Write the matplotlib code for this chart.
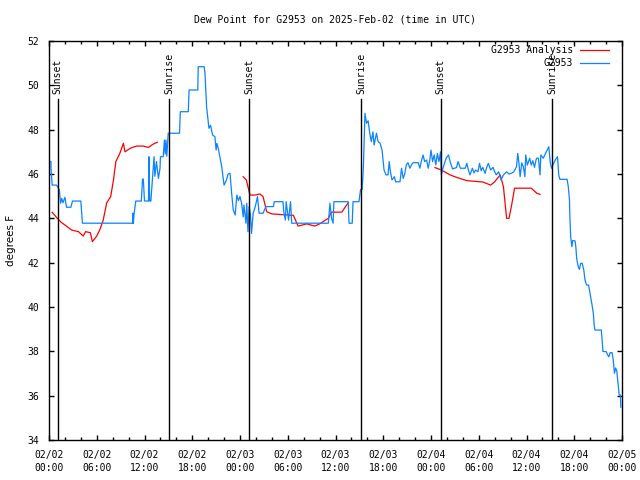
import numpy as np
import matplotlib
matplotlib.use("Agg")
import matplotlib.pyplot as plt
from matplotlib.ticker import MultipleLocator

# Datos (horas desde 2025-02-02 00:00 UTC)
analisis_h = [0.4, 1.05, 1.6, 2.0, 2.85, 3.7, 4.3, 4.6, 5.2, 5.45, 6.0, 6.4, 6.8, 7.25, 7.75,
              8.1, 8.4, 8.9, 9.35, 9.55, 10.2, 11.0, 11.85, 12.5, 13.1, 13.6, np.nan,
              24.4, 24.8, 25.25, 25.9, 26.5, 26.9, 27.35, 28.0, 30.3, 30.7, 31.3, 32.4, 33.4,
              34.0, 35.1, 35.5, 36.8, 37.2, 37.6, np.nan,
              48.5, 49.3, 50.4, 51.2, 52.5, 54.5, 55.5, 56.0, 56.7, 57.1, 57.5, 57.8, 58.1,
              58.5, 60.6, 61.3, 61.7]
analisis_v = [44.27, 44.0, 43.8, 43.7, 43.47, 43.4, 43.2, 43.4, 43.35, 42.95, 43.2, 43.5, 43.9,
              44.7, 44.98, 45.73, 46.56, 46.93, 47.39, 47.0, 47.16, 47.26, 47.26, 47.2, 47.35,
              47.43, np.nan,
              45.88, 45.73, 45.05, 45.05, 45.1, 44.98, 44.3, 44.2, 44.14, 44.14, 43.65, 43.75,
              43.65, 43.75, 44.0, 44.28, 44.28, 44.5, 44.7, np.nan,
              46.29, 46.18, 45.96, 45.85, 45.7, 45.64, 45.5, 45.65, 45.96, 45.43, 44.0, 44.0,
              44.53, 45.36, 45.36, 45.13, 45.08]

obs_h = [0, 0.25, 0.25, 0.4, 0.95, 1.3, 1.45, 1.6, 1.75, 2.0, 2.2, 2.75, 2.95, 4.0, 4.2, 10.5,
         10.55, 10.6, 10.7, 10.9, 11.6, 11.75, 11.85, 12.0, 12.5, 12.55, 12.65, 12.8, 13.0, 13.2,
         13.3, 13.5, 13.75, 13.95, 14.0, 14.35, 14.5, 14.6, 14.7, 14.8, 14.98, 16.4, 16.5, 17.5,
         17.6, 18.7, 18.75, 19.5, 19.6, 19.8, 20.1, 20.3, 20.55, 20.85, 21.0, 21.1, 21.3, 21.7,
         22.0, 22.3, 22.5, 22.75, 22.95, 23.15, 23.4, 23.6, 23.8, 24.0, 24.2, 24.4, 24.5, 24.75,
         24.85, 25.0, 25.15, 25.3, 25.45, 25.65, 25.9, 26.2, 26.4, 26.9, 27.25, 28.2, 28.3, 29.4,
         29.5, 29.7, 29.8, 30.1, 30.35, 30.5, 35.1, 35.3, 35.5, 35.7, 35.8, 37.6, 37.7, 38.1,
         38.2, 38.95, 39.15, 39.35, 39.5, 39.7, 39.9, 40.1, 40.3, 40.5, 40.7, 40.85, 41.15,
         41.35, 41.6, 41.85, 42.0, 42.1, 42.35, 42.6, 42.75, 42.9, 43.1, 43.4, 43.55, 44.1, 44.3,
         44.5, 44.7, 44.9, 45.1, 45.35, 45.55, 45.75, 46.4, 46.6, 46.8, 47.0, 47.2, 47.45,
         47.65, 47.85, 48.0, 48.2, 48.4, 48.6, 48.8, 49.0, 49.2, 49.3, 49.5, 49.9, 50.2, 50.4,
         50.7, 51.2, 51.4, 51.7, 52.3, 52.5, 52.7, 52.9, 53.2, 53.4, 53.6, 53.9, 54.1, 54.3,
         54.5, 54.8, 55.0, 55.2, 55.5, 55.8, 56.0, 56.2, 56.5, 56.8, 57.1, 57.5, 57.8, 58.1,
         58.4, 58.75, 58.9, 59.05, 59.2, 59.4, 59.6, 59.8, 59.9, 60.1, 60.4, 60.6, 60.8, 61.0,
         61.25, 61.5, 61.7, 61.8, 62.1, 62.3, 62.5, 62.8, 63.0, 63.15, 63.6, 63.9, 64.05, 64.2,
         65.1, 65.25, 65.4, 65.45, 65.55, 65.7, 65.8, 66.1, 66.2, 66.3, 66.5, 66.65, 66.8, 67.0,
         67.2, 67.35, 67.55, 67.8, 67.95, 68.2, 68.4, 68.5, 68.6, 69.4, 69.55, 69.6, 70.0, 70.2,
         70.35, 70.5, 70.75, 70.9, 71.05, 71.2, 71.35, 71.5, 71.65, 71.8, 71.85]
obs_v = [46.56, 46.56, 46.26, 45.5, 45.5, 45.28, 44.68, 44.9, 44.7, 44.95, 44.5, 44.5, 44.78,
         44.78, 43.78, 43.78, 44.23, 43.78, 44.23, 44.78, 44.78, 45.77, 45.77, 44.78, 44.78,
         46.78, 44.78, 44.78, 45.8, 46.78, 45.9, 46.56, 45.8, 46.26, 46.78, 46.78, 47.53, 46.9,
         47.53, 46.8, 47.84, 47.84, 48.81, 48.81, 49.79, 49.79, 50.84, 50.84, 50.54, 49.04,
         48.06, 48.2, 47.76, 47.68, 47.08, 47.38, 47.1, 46.33, 45.5, 45.73, 46.0, 46.03, 45.13,
         44.38, 44.15, 45.05, 44.8, 44.98, 44.68, 44.07, 44.6, 43.78, 44.68, 43.4, 44.53, 44.2,
         43.32, 44.23, 44.5, 44.98, 44.23, 44.23, 44.53, 44.53, 44.75, 44.75, 44.3, 43.92,
         44.75, 43.92, 44.75, 43.78, 43.78, 44.68, 44.0, 43.78, 44.75, 44.75, 43.78, 43.78,
         44.75, 44.75, 45.3, 45.3, 46.26, 48.74, 48.29, 48.4, 47.84, 47.46, 47.9, 47.31, 47.84,
         47.46, 47.39, 47.08, 46.56, 46.18, 45.96, 45.96, 46.56, 46.1, 45.73, 45.88, 45.65,
         45.65, 46.26, 45.8, 46.0, 46.41, 46.51, 46.26, 46.41, 46.51, 46.51, 46.26, 46.6, 46.86,
         46.56, 46.63, 46.26, 46.63, 47.08, 46.56, 46.86, 46.41, 46.93, 46.56, 47.0, 45.96,
         46.26, 46.71, 46.86, 46.56, 46.23, 46.29, 46.56, 46.26, 46.26, 46.48, 46.18, 45.96,
         46.26, 46.05, 46.18, 46.1, 46.48, 46.15, 46.3, 46.03, 46.3, 46.48, 46.18, 46.3, 46.1,
         45.96, 46.1, 45.73, 45.96, 46.1, 46.0, 46.03, 46.1, 46.33, 46.93, 46.5, 45.88, 46.5,
         46.33, 45.88, 46.86, 46.4, 46.71, 46.4, 46.6, 46.3, 46.71, 46.71, 45.96, 46.86, 46.71,
         46.86, 47.0, 47.23, 46.48, 46.26, 46.63, 46.78, 45.96, 45.76, 45.76, 45.43, 44.83,
         44.07, 43.17, 42.72, 43.0, 42.98, 42.72, 42.2, 41.82, 41.7, 41.97, 41.97, 41.67, 41.22,
         40.99, 40.99, 40.69, 40.17, 39.71, 39.19, 38.96, 38.96, 38.29, 37.99, 37.99, 37.84,
         37.75, 37.94, 37.94, 37.61, 37.01, 37.25, 37.1, 36.56, 36.03, 36.03, 35.48]

sol_h = [1.08, 15.12, 25.17, 39.2, 49.2, 63.2]
sol_txt = ["Sunset", "Sunrise", "Sunset", "Sunrise", "Sunset", "Sunrise"]

xtick_h = list(range(0, 73, 6))
xtick_txt = ["02/02\n00:00", "02/02\n06:00", "02/02\n12:00", "02/02\n18:00",
             "02/03\n00:00", "02/03\n06:00", "02/03\n12:00", "02/03\n18:00",
             "02/04\n00:00", "02/04\n06:00", "02/04\n12:00", "02/04\n18:00",
             "02/05\n00:00"]

fuente = "DejaVu Sans Mono"
fs = 7.0

fig = plt.figure(figsize=(6.4, 4.8), dpi=100)
ax = fig.add_axes([49/640, 1 - 440/480, 573/640, 399/480])

ax.plot(analisis_h, analisis_v, color="#ff0000", lw=0.9, label="G2953 Analysis")
ax.plot(obs_h, obs_v, color="#0a84ff", lw=0.9, label="G2953")

for h, t in zip(sol_h, sol_txt):
    ax.plot([h, h], [34, 49.38], color="black", lw=1.0)
    ax.text(h, 49.62, t, rotation=90, ha="center", va="bottom",
            family=fuente, fontsize=fs)

ax.set_xlim(0, 72)
ax.set_ylim(34, 52)
ax.set_xticks(xtick_h)
ax.set_xticklabels(xtick_txt, family=fuente, fontsize=fs, linespacing=1.35)
ax.xaxis.set_minor_locator(MultipleLocator(2))
ax.yaxis.set_major_locator(MultipleLocator(2))
for lab in ax.get_yticklabels():
    lab.set_family(fuente)
    lab.set_fontsize(fs)
ax.tick_params(which="both", direction="in", top=True, right=True, width=1.0)
ax.tick_params(which="major", length=3.6, pad=7)
ax.tick_params(which="minor", length=2.2)
for s in ax.spines.values():
    s.set_linewidth(1.0)

ax.set_ylabel("degrees F", fontsize=7.5, labelpad=8)
ax.set_title("Dew Point for G2953 on 2025-Feb-02 (time in UTC)",
             family=fuente, fontsize=fs, pad=13)

leg = ax.legend(loc="upper right", bbox_to_anchor=(1 - 11/573, 1 - 2/399),
                markerfirst=False, frameon=False,
                prop={"family": fuente, "size": fs}, handlelength=3.0,
                handletextpad=0.7, labelspacing=0.35, borderaxespad=0.0,
                borderpad=0.2)

fig.savefig("out.png", dpi=100)
